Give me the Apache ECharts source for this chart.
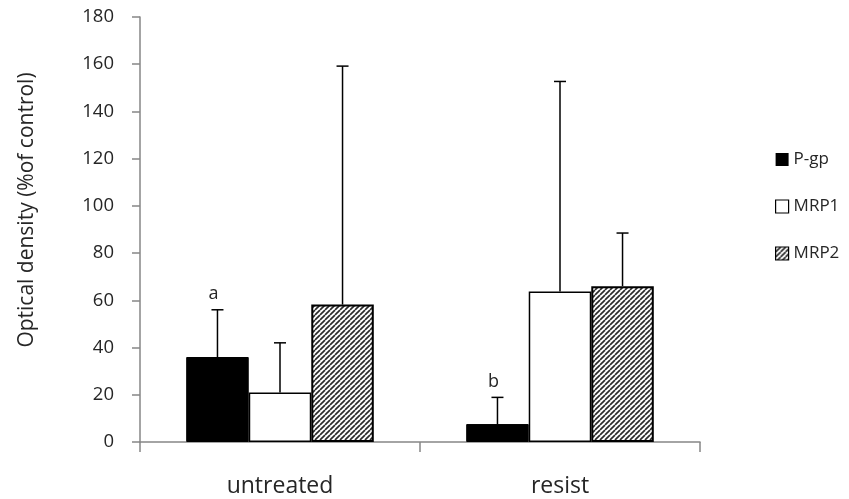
<!DOCTYPE html>
<html>
<head>
<meta charset="utf-8">
<script src="https://cdn.jsdelivr.net/npm/echarts@6/dist/echarts.min.js"></script>
<style>
  html, body { margin: 0; padding: 0; background: #fff; }
  #chart { width: 849px; height: 499px; }
</style>
</head>
<body>
<div id="chart"></div>
<script>
// Optical density of transporter expression, mean with upward SD bars
const groups = ['untreated', 'resist'];
const seriesNames = ['P-gp', 'MRP1', 'MRP2'];
const pgpMean = [36, 7.6];
const pgpSd = [20, 11.3];
const mrp1Mean = [21, 63.7];
const mrp1Sd = [21, 89];
const mrp2Mean = [58.2, 66];
const mrp2Sd = [101, 22.5];
const pgpLetters = ['a', 'b'];
const yTicks = { min: 0, max: 180, interval: 20 };

const FONT = '"Open Sans", "Noto Sans", sans-serif';
const TEXT = '#262626';
const AXIS = '#868686';

// diagonal hatch tile for MRP2
function hatchTile() {
  const s = 5;
  const c = document.createElement('canvas');
  c.width = s; c.height = s;
  const ctx = c.getContext('2d');
  ctx.fillStyle = '#fff';
  ctx.fillRect(0, 0, s, s);
  ctx.strokeStyle = '#2a2a2a';
  ctx.lineWidth = 1.7;
  for (const o of [-s, 0, s]) {
    ctx.beginPath();
    ctx.moveTo(o, s);
    ctx.lineTo(o + s, 0);
    ctx.stroke();
  }
  return c;
}
const hatch = { image: hatchTile(), repeat: 'repeat' };

const means = [pgpMean, mrp1Mean, mrp2Mean];
const sds = [pgpSd, mrp1Sd, mrp2Sd];
const fills = ['#000', '#fff', hatch];
const borders = [1, 1.5, 2];

// error bar items: [group index, series index, mean, sd, letter]
const errData = [];
groups.forEach((g, gi) => {
  seriesNames.forEach((n, si) => {
    errData.push([gi, si, means[si][gi], sds[si][gi], si === 0 ? pgpLetters[gi] : '']);
  });
});

const CAT_GAP = 0.33;

const chart = echarts.init(document.getElementById('chart'), null, { renderer: 'canvas' });

const barSeries = seriesNames.map((name, si) => ({
  name: name,
  type: 'bar',
  data: means[si],
  barGap: '0%',
  barCategoryGap: (CAT_GAP * 100) + '%',
  itemStyle: { color: fills[si], borderColor: '#000', borderWidth: borders[si] },
  emphasis: { disabled: true },
  z: 2
}));

chart.setOption({
  animation: false,
  backgroundColor: '#fff',
  grid: { left: 140, right: 149, top: 17, bottom: 57, containLabel: false },
  legend: {
    orient: 'vertical',
    left: 770,
    top: 146,
    itemWidth: 13,
    itemHeight: 13,
    itemGap: 30,
    icon: 'rect',
    data: seriesNames.map((n, si) => ({
      name: n,
      itemStyle: { color: fills[si], borderColor: '#000', borderWidth: si === 0 ? 0 : 1.2 }
    })),
    textStyle: { fontFamily: FONT, fontSize: 17, color: TEXT, padding: [0, 0, 0, 0] },
    selectedMode: false
  },
  xAxis: {
    type: 'category',
    data: groups,
    boundaryGap: true,
    axisLine: { lineStyle: { color: AXIS, width: 1.5 } },
    axisTick: { show: true, length: 10, alignWithLabel: false, lineStyle: { color: AXIS, width: 1.5 } },
    axisLabel: { fontFamily: FONT, fontSize: 23, color: TEXT, margin: 33 },
    splitLine: { show: false }
  },
  yAxis: {
    type: 'value',
    min: yTicks.min,
    max: yTicks.max,
    interval: yTicks.interval,
    axisLine: { show: true, lineStyle: { color: AXIS, width: 1.5 } },
    axisTick: { show: true, length: 8, lineStyle: { color: AXIS, width: 1.5 } },
    axisLabel: { fontFamily: FONT, fontSize: 18.5, color: TEXT, margin: 26 },
    splitLine: { show: false }
  },
  graphic: [{
    type: 'text',
    x: 27,
    y: 210,
    rotation: Math.PI / 2,
    style: {
      text: 'Optical density (%of control)',
      fontFamily: FONT,
      fontSize: 21,
      fill: TEXT,
      align: 'center',
      verticalAlign: 'middle'
    }
  }],
  series: barSeries.concat([{
    type: 'custom',
    name: 'sd',
    data: errData,
    encode: { x: 0, y: 2 },
    z: 5,
    silent: true,
    renderItem: function (params, api) {
      const gi = api.value(0);
      const si = api.value(1);
      const mean = api.value(2);
      const sd = api.value(3);
      const letter = errData[params.dataIndex][4];
      const band = api.size([1, 0])[0];
      const barW = band * (1 - CAT_GAP) / seriesNames.length;
      const cx = api.coord([gi, 0])[0] + (si - (seriesNames.length - 1) / 2) * barW;
      const yTop = api.coord([gi, mean])[1];
      const yUp = api.coord([gi, mean + sd])[1];
      const style = { stroke: '#000', lineWidth: 1.5 };
      const kids = [
        { type: 'line', shape: { x1: cx, y1: yTop, x2: cx, y2: yUp }, style: style },
        { type: 'line', shape: { x1: cx - 6, y1: yUp, x2: cx + 6, y2: yUp }, style: style }
      ];
      if (letter) {
        kids.push({
          type: 'text',
          x: cx - 4,
          y: yUp - 7,
          style: {
            text: letter, fontFamily: FONT, fontSize: 18, fill: TEXT,
            align: 'center', verticalAlign: 'bottom'
          }
        });
      }
      return { type: 'group', children: kids };
    }
  }])
});
</script>
</body>
</html>
